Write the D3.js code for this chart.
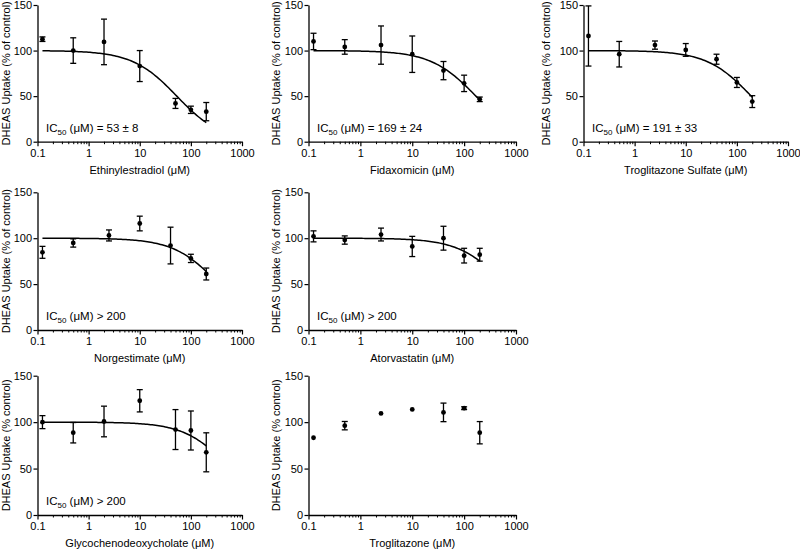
<!DOCTYPE html>
<html><head><meta charset="utf-8">
<script src="https://cdn.jsdelivr.net/npm/d3@7"></script>
<style>
body{margin:0;background:#fff}
text{font-family:Arial,"Liberation Sans",Helvetica,sans-serif;fill:#000}
</style>
</head><body><svg id="c" width="800" height="550"></svg>
<script>
// ---------------- data ----------------
const drugNames = ["Ethinylestradiol","Fidaxomicin","Troglitazone Sulfate","Norgestimate","Atorvastatin","Glycochenodeoxycholate","Troglitazone"];
const concA = [0.125, 0.5, 2, 10, 50, 100, 200];
const concB = [0.125, 0.5, 2.5, 10, 40, 100, 200];
const concByDrug = [concA, concB, concB, concB, concB, concA, concB];
const meanEthinylestradiol = [112.5, 100, 109.5, 83, 42, 35, 33];
const semEthinylestradiol  = [2.5, 14, 25, 17, 5.5, 4, 10];
const meanFidaxomicin = [110, 104, 106, 96, 78, 64, 46.5];
const semFidaxomicin  = [9, 8, 21, 20, 10, 9, 2.5];
const meanTrogSulfate = [116, 96, 106, 100.7, 90.5, 65, 44];
const semTrogSulfate  = [33, 14, 4.5, 7, 5.5, 5.5, 6.5];
const meanNorgestimate = [84.6, 94.8, 103, 116, 92, 78, 61];
const semNorgestimate  = [6.5, 4.5, 6, 8, 20, 4.5, 6.5];
const meanAtorvastatin = [102, 98, 104, 91, 100, 81, 82];
const semAtorvastatin  = [6, 4.5, 7, 11, 13, 8, 7];
const meanGlyco = [100, 88.6, 100.7, 123, 92, 91, 67.5];
const semGlyco  = [7, 11, 16.5, 12, 21.5, 21, 21];
const meanTroglitazone = [83.2, 96.2, 109.4, 113.7, 110.5, 115, 88.6];
const semTroglitazone  = [0, 4.5, 0, 0, 10, 1.5, 12];
const means = [meanEthinylestradiol, meanFidaxomicin, meanTrogSulfate, meanNorgestimate, meanAtorvastatin, meanGlyco, meanTroglitazone];
const sems  = [semEthinylestradiol, semFidaxomicin, semTrogSulfate, semNorgestimate, semAtorvastatin, semGlyco, semTroglitazone];
// fitted curve parameters (top 100, bottom 0, Hill slope 1)
const fitIC50 = [53, 169, 191, 350, 600, 580, null];
const ic50Text = [" (\u03BCM) = 53 \u00B1 8", " (\u03BCM) = 169 \u00B1 24", " (\u03BCM) = 191 \u00B1 33", " (\u03BCM) > 200", " (\u03BCM) > 200", " (\u03BCM) > 200", null];
const yTitles = ["DHEAS Uptake (% of control)","DHEAS Uptake (% of control)","DHEAS Uptake (% of control)","DHEAS Uptake (% of control)","DHEAS Uptake (% of control)","DHEAS Uptake (% control)","DHEAS Uptake (% control)"];
const xMajorTicks = [0.1, 1, 10, 100, 1000];
const xTickLabels = ["0.1", "1", "10", "100", "1000"];
const yTicks = [0, 50, 100, 150];

// ---------------- layout ----------------
const panelCol = [0,1,2,0,1,0,1];
const panelRow = [0,0,0,1,1,2,2];
const colLeft = [37.5, 308.5, 583.5];
const colRight = [242, 516, 788];
const rowTop = [5, 192.3, 375.7];
const rowBottom = [141.7, 330, 515];
const yTitleOffset = [28, 29, 34];

const svg = d3.select("#c");
svg.append("rect").attr("width",800).attr("height",550).attr("fill","#fff");

const xMinor = [];
for (let d = 0.1; d < 1000; d *= 10) for (let k = 2; k <= 9; k++) xMinor.push(+(d*k).toPrecision(3));

drugNames.forEach((name, i) => {
  const c = panelCol[i], r = panelRow[i];
  const x = d3.scaleLog().domain([0.1, 1000]).range([colLeft[c], colRight[c]]);
  const y = d3.scaleLinear().domain([0, 150]).range([rowBottom[r], rowTop[r]]);
  const g = svg.append("g");

  // x axis: minor ticks
  g.append("g").attr("transform", `translate(0,${rowBottom[r]})`)
    .call(d3.axisBottom(x).tickValues(xMinor).tickSize(2.5).tickSizeOuter(0).tickFormat(""))
    .call(a => a.select(".domain").remove())
    .call(a => a.selectAll("line").attr("stroke-width", 1));
  // x axis: major ticks
  g.append("g").attr("transform", `translate(0,${rowBottom[r]})`)
    .call(d3.axisBottom(x).tickValues(xMajorTicks).tickSize(4.5).tickSizeOuter(0).tickPadding(3)
      .tickFormat((d, j) => xTickLabels[j]))
    .call(a => a.select(".domain").attr("stroke-width", 1.3))
    .call(a => a.selectAll("line").attr("stroke-width", 1.2))
    .call(a => a.selectAll("text").attr("font-size", 11).attr("fill", "#000"));
  // y axis
  g.append("g").attr("transform", `translate(${colLeft[c]},0)`)
    .call(d3.axisLeft(y).tickValues(yTicks).tickSize(4).tickSizeOuter(0).tickPadding(1.5))
    .call(a => a.select(".domain").attr("stroke-width", 1.3))
    .call(a => a.selectAll("line").attr("stroke-width", 1.2))
    .call(a => a.selectAll("text").attr("font-size", 11).attr("fill", "#000"));

  // axis titles
  g.append("text").attr("x", (colLeft[c] + colRight[c]) / 2).attr("y", rowBottom[r] + 32)
    .attr("text-anchor", "middle").attr("font-size", 11).text(name + " (\u03BCM)");
  g.append("text")
    .attr("transform", `translate(${colLeft[c] - yTitleOffset[c]},${(rowTop[r] + rowBottom[r]) / 2}) rotate(-90)`)
    .attr("text-anchor", "middle").attr("font-size", 11).text(yTitles[i]);

  // fitted curve
  const conc = concByDrug[i];
  if (fitIC50[i] !== null) {
    const lo = Math.log10(conc[0]), hi = Math.log10(conc[conc.length - 1]);
    const pts = d3.range(0, 101).map(k => {
      const xv = Math.pow(10, lo + (hi - lo) * k / 100);
      return [xv, 100 / (1 + xv / fitIC50[i])];
    });
    g.append("path").datum(pts)
      .attr("d", d3.line().x(d => x(d[0])).y(d => y(d[1])))
      .attr("fill", "none").attr("stroke", "#000").attr("stroke-width", 1.5);
  }

  // error bars
  const capW = 3;
  conc.forEach((cv, j) => {
    const m = means[i][j], s = sems[i][j];
    if (s > 0) {
      const xc = x(cv);
      g.append("line").attr("x1", xc).attr("x2", xc).attr("y1", y(m - s)).attr("y2", y(m + s))
        .attr("stroke", "#000").attr("stroke-width", 1.3);
      [m - s, m + s].forEach(v => g.append("line").attr("x1", xc - capW).attr("x2", xc + capW)
        .attr("y1", y(v)).attr("y2", y(v)).attr("stroke", "#000").attr("stroke-width", 1.3));
    }
  });
  // points
  g.selectAll("circle.pt").data(conc).join("circle")
    .attr("cx", d => x(d)).attr("cy", (d, j) => y(means[i][j])).attr("r", 2.4).attr("fill", "#000");

  // IC50 annotation
  if (ic50Text[i] !== null) {
    const t = g.append("text").attr("x", colLeft[c] + 8.5).attr("y", rowBottom[r] - 10).attr("font-size", 11.5);
    t.append("tspan").text("IC");
    t.append("tspan").attr("font-size", 8).attr("dy", 3).text("50");
    t.append("tspan").attr("dy", -3).text(ic50Text[i]);
  }
});
</script>
</body></html>
